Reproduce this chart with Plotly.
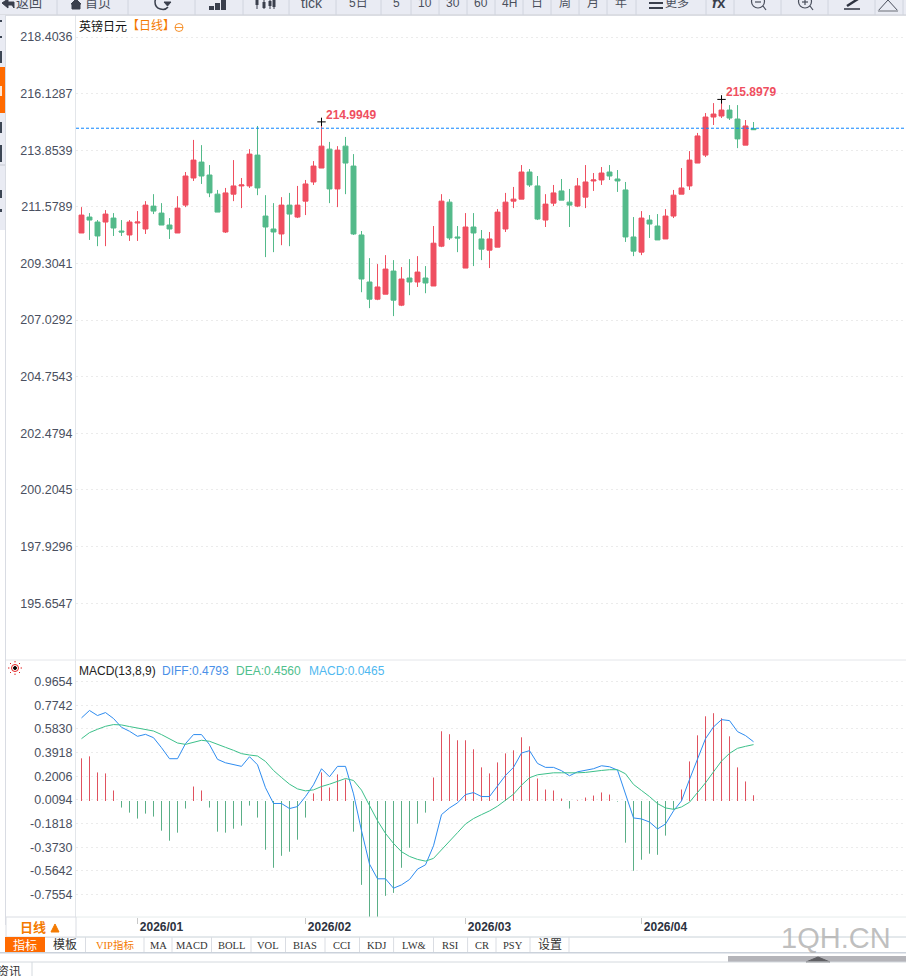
"""GBP/JPY daily candles with MACD panel, inside the trading terminal frame."""
import plotly.graph_objects as go

W, H = 906, 976
SANS = "Liberation Sans, Arial, sans-serif"
CJK = "Liberation Sans, Noto Sans CJK SC, sans-serif"
SERIF = "Liberation Serif, Noto Sans CJK SC, serif"

# ────── data ──────
opens = [210.53, 211.17, 210.97, 210.97, 211.13, 210.61, 210.45, 210.93, 210.69, 211.61,
         211.33, 210.85, 210.53, 211.65, 212.74, 213.38, 212.86, 212.09, 210.57, 212.09,
         212.42, 212.42, 213.66, 211.21, 210.69, 210.49, 211.65, 211.17, 211.81, 212.58,
         213.14, 213.90, 212.30, 214.02, 213.22, 210.45, 208.56, 207.87, 208.07, 209.00,
         207.63, 208.72, 208.56, 208.72, 208.40, 210.00, 211.77, 210.37, 209.12, 210.77,
         210.29, 209.84, 209.96, 210.69, 211.81, 211.89, 212.98, 212.42, 211.05, 211.73,
         212.22, 211.77, 211.61, 211.97, 212.62, 212.66, 212.98, 212.70, 212.26, 210.37,
         209.76, 211.05, 210.81, 210.29, 211.21, 212.09, 212.42, 213.34, 213.66, 215.19,
         215.23, 215.47, 215.11, 214.06, 214.73]
highs = [211.57, 211.33, 211.05, 211.45, 211.33, 211.05, 211.05, 211.41, 211.81, 212.09,
         211.73, 211.13, 212.01, 212.98, 214.27, 214.06, 213.26, 212.26, 212.34, 213.46,
         212.74, 213.90, 214.83, 212.05, 211.73, 211.97, 212.14, 212.42, 212.66, 213.42,
         214.9949, 214.19, 214.02, 214.39, 213.70, 210.61, 209.52, 209.28, 209.64, 209.44,
         209.16, 209.48, 209.60, 209.20, 210.81, 212.09, 211.89, 210.81, 211.33, 211.33,
         210.65, 210.57, 211.49, 212.14, 212.38, 213.26, 213.10, 212.82, 212.09, 212.46,
         212.70, 212.30, 212.74, 213.26, 212.94, 213.18, 213.26, 213.06, 212.58, 211.17,
         211.41, 211.25, 211.29, 211.49, 212.26, 213.14, 213.82, 214.55, 215.35, 215.75,
         215.8979, 215.67, 215.67, 215.07, 214.99]
lows = [210.53, 210.25, 210.00, 210.00, 210.41, 210.41, 210.21, 210.21, 210.49, 211.29,
        210.85, 210.29, 210.53, 211.57, 212.62, 212.50, 211.97, 211.37, 210.53, 211.81,
        211.53, 212.34, 212.05, 209.56, 209.76, 210.04, 210.00, 211.13, 211.25, 212.46,
        213.14, 211.73, 211.57, 212.09, 210.45, 208.15, 207.51, 207.83, 208.07, 207.19,
        207.59, 208.03, 208.36, 208.11, 208.40, 209.96, 210.25, 209.76, 209.12, 209.20,
        209.44, 209.12, 209.96, 210.57, 211.53, 211.89, 212.38, 211.05, 210.77, 211.61,
        211.85, 210.77, 211.57, 211.53, 212.22, 212.46, 212.66, 212.18, 210.17, 209.60,
        209.64, 210.33, 210.25, 210.29, 211.13, 212.09, 212.26, 213.34, 213.58, 214.87,
        215.15, 215.07, 213.94, 214.06, 214.67]
closes = [211.25, 211.05, 210.41, 211.29, 210.73, 210.57, 210.97, 210.97, 211.65, 211.41,
          210.85, 210.69, 211.53, 212.82, 213.46, 212.82, 212.14, 211.37, 212.14, 212.42,
          212.46, 213.70, 212.34, 210.77, 210.57, 211.65, 211.29, 211.65, 212.50, 213.22,
          214.02, 212.30, 213.86, 213.34, 210.49, 208.68, 207.87, 208.36, 209.08, 207.83,
          208.68, 208.56, 208.96, 208.52, 210.12, 211.81, 210.33, 210.33, 210.77, 210.53,
          209.88, 210.29, 211.37, 211.77, 211.89, 212.98, 212.46, 211.09, 211.69, 212.14,
          211.85, 211.65, 212.42, 212.58, 212.66, 212.94, 212.82, 212.62, 210.37, 209.80,
          211.13, 210.89, 210.25, 211.21, 212.05, 212.34, 213.46, 214.43, 215.19, 215.31,
          215.47, 215.15, 214.31, 214.83, 214.68]

diff = [0.672, 0.732, 0.691, 0.715, 0.667, 0.596, 0.564, 0.523, 0.539, 0.512,
        0.431, 0.342, 0.342, 0.464, 0.537, 0.537, 0.456, 0.337, 0.309, 0.296,
        0.280, 0.358, 0.293, 0.107, -0.020, -0.020, -0.061, -0.045, 0.036, 0.131,
        0.261, 0.196, 0.280, 0.280, 0.058, -0.240, -0.510, -0.629, -0.629, -0.705,
        -0.678, -0.635, -0.551, -0.516, -0.362, -0.110, -0.056, -0.015, 0.052, 0.068,
        0.036, 0.036, 0.117, 0.207, 0.272, 0.388, 0.407, 0.304, 0.272, 0.272,
        0.245, 0.204, 0.236, 0.247, 0.261, 0.285, 0.277, 0.250, 0.052, -0.137,
        -0.145, -0.170, -0.226, -0.186, -0.080, 0.001, 0.174, 0.345, 0.504, 0.599,
        0.658, 0.650, 0.561, 0.529, 0.4793]
dea = [0.504, 0.553, 0.580, 0.604, 0.618, 0.615, 0.602, 0.588, 0.580, 0.566,
       0.537, 0.502, 0.469, 0.458, 0.477, 0.491, 0.483, 0.461, 0.434, 0.410,
       0.383, 0.372, 0.364, 0.320, 0.247, 0.190, 0.136, 0.098, 0.082, 0.090,
       0.117, 0.136, 0.161, 0.182, 0.166, 0.088, -0.037, -0.159, -0.262, -0.343,
       -0.410, -0.448, -0.472, -0.486, -0.464, -0.397, -0.326, -0.256, -0.186, -0.142,
       -0.110, -0.080, -0.042, 0.009, 0.055, 0.128, 0.188, 0.212, 0.223, 0.228,
       0.228, 0.226, 0.228, 0.231, 0.242, 0.247, 0.253, 0.253, 0.220, 0.134,
       0.085, 0.036, -0.021, -0.056, -0.067, -0.048, -0.010, 0.066, 0.147, 0.236,
       0.323, 0.385, 0.426, 0.442, 0.4560]
macd = [0.345, 0.361, 0.231, 0.223, 0.085, -0.053, -0.094, -0.142, -0.102, -0.126,
        -0.240, -0.321, -0.256, -0.061, 0.117, 0.085, -0.053, -0.248, -0.256, -0.224,
        -0.199, -0.037, -0.134, -0.394, -0.540, -0.443, -0.410, -0.313, -0.134, 0.061,
        0.231, 0.109, 0.215, 0.174, -0.248, -0.678, -0.946, -0.946, -0.767, -0.743,
        -0.540, -0.378, -0.183, -0.094, 0.190, 0.564, 0.540, 0.491, 0.491, 0.418,
        0.272, 0.223, 0.312, 0.385, 0.410, 0.515, 0.442, 0.182, 0.093, 0.085,
        0.020, -0.061, 0.005, 0.028, 0.044, 0.069, 0.052, -0.005, -0.337, -0.564,
        -0.475, -0.426, -0.435, -0.280, -0.069, 0.093, 0.320, 0.531, 0.685, 0.710,
        0.669, 0.523, 0.272, 0.158, 0.0465]

idx = list(range(len(closes)))
price_ticks = ["218.4036", "216.1287", "213.8539", "211.5789", "209.3041", "207.0292",
               "204.7543", "202.4794", "200.2045", "197.9296", "195.6547"]
macd_ticks = ["0.9654", "0.7742", "0.5830", "0.3918", "0.2006", "0.0094",
              "-0.1818", "-0.3730", "-0.5642", "-0.7554"]
month_pos = [7, 28, 48, 70]
month_labels = ["2026/01", "2026/02", "2026/03", "2026/04"]
peak_idx = [30, 80]
last_price = 214.74

# colours
RED, GREEN = "#EF4F60", "#53BA8A"
BAR_RED, BAR_GREEN = "#E0525F", "#5BAF87"
CHROME = "#E9EBF3"
EDGE = "#D0D4DE"
ORANGE = "#F47A00"
X_RANGE = [-0.6875, 103.06]


# ────── pixel helpers for the terminal frame ──────
shapes, notes = [], []


def rect(x0, y0, x1, y1, fill, line=None):
    shapes.append(dict(type="rect", xref="paper", yref="paper",
                       x0=x0 / W, x1=x1 / W, y0=1 - y0 / H, y1=1 - y1 / H,
                       fillcolor=fill, line=dict(color=line or fill, width=1 if line else 0)))


def seg(x0, y0, x1, y1, color=EDGE, width=1, dash="solid"):
    shapes.append(dict(type="line", xref="paper", yref="paper",
                       x0=x0 / W, x1=x1 / W, y0=1 - y0 / H, y1=1 - y1 / H,
                       line=dict(color=color, width=width, dash=dash)))


def poly(points, color, fill=True, width=1):
    path = "M " + " L ".join(f"{x / W:.5f} {1 - y / H:.5f}" for x, y in points)
    shapes.append(dict(type="path", xref="paper", yref="paper",
                       path=path + (" Z" if fill else ""),
                       fillcolor=color if fill else "rgba(0,0,0,0)",
                       line=dict(color=color, width=width)))


def ring(cx, cy, r, color, fill="rgba(0,0,0,0)", width=1):
    shapes.append(dict(type="circle", xref="paper", yref="paper",
                       x0=(cx - r) / W, x1=(cx + r) / W, y0=1 - (cy + r) / H, y1=1 - (cy - r) / H,
                       fillcolor=fill, line=dict(color=color, width=width)))


def label(x, y, text, size=12, color="#333", family=CJK, anchor="center"):
    notes.append(dict(xref="paper", yref="paper", x=x / W, y=1 - y / H, text=text,
                      showarrow=False, xanchor=anchor, yanchor="middle",
                      font=dict(size=size, color=color, family=family)))


# top toolbar
rect(0, 0, W, 14, CHROME)
seg(0, 15, W, 15, "#CFD2DA", 1.5)
for sx in [57, 128, 195, 243, 289, 336, 381, 411, 439, 467, 495, 523, 551, 579, 607,
           636, 706, 734, 781, 828, 875, 903]:
    seg(sx, 0, sx, 15)
for cx, txt, sz in [(29, "返回", 13), (98, "首页", 13), (312, "tick", 14), (358, "5日", 12),
                    (396, "5", 12), (425, "10", 12), (453, "30", 12), (481, "60", 12),
                    (509, "4H", 12), (537, "日", 12), (565, "周", 12), (593, "月", 12),
                    (621, "年", 12), (677, "更多", 12)]:
    label(cx, 2.5, txt, sz, "#4A4F5C")
label(719, 3, "<b><i>f</i>x</b>", 15, "#3A3F4C")
# toolbar icons
poly([(2, 3), (8, -1), (8, 2), (14, 2), (14, 8), (12, 5), (8, 5), (8, 8)], "#3A3F4C")
poly([(71, 4), (76, -1), (81, 4), (80, 4), (80, 9), (72, 9), (72, 4)], "#3A3F4C")
shapes.append(dict(type="path", xref="paper", yref="paper",
                   path=f"M {168 / W} {1 - 7 / H} C {165 / W} {1 - 11 / H}, {155 / W} {1 - 10 / H}, {155 / W} {1 - 2 / H}"
                        f" C {155 / W} {1 + 3 / H}, {160 / W} {1 + 5 / H}, {164 / W} {1 + 4 / H}",
                   line=dict(color="#3A3F4C", width=1.5)))
poly([(164, 2), (171, 2), (167.5, 6)], "#3A3F4C")
for x0, top in [(209, 6), (215, 3), (221, 0)]:
    rect(x0, top, x0 + 5, 10, "#3A3F4C")
for cx, top, bot in [(257, 0, 5), (264, 2, 8), (270, 1, 6), (274, 0, 7)]:
    seg(cx, 0, cx, 9, "#3A3F4C", 1)
    rect(cx - 1.5, top, cx + 1.5, bot, "#3A3F4C")
rect(649, 2, 663, 4, "#3A3F4C")
rect(649, 7, 663, 9, "#3A3F4C")
for cx in [758, 805]:
    ring(cx, 1.5, 6.5, "#4A4F5C", width=1.2)
    seg(cx + 5, 6, cx + 8, 10, "#4A4F5C", 1.2)
    seg(cx - 3, 2, cx + 3, 2, "#4A4F5C", 1.2)
seg(805, -1, 805, 5, "#4A4F5C", 1.2)
seg(847, 6, 858, -1, "#2E3340", 2.5)
seg(844, 9, 860, 9, "#2E3340", 1.5)
poly([(878, 11), (888, 0), (898, 11)], "#4A4F5C", fill=False)
seg(878, 11, 898, 11, "#A9ACB4", 2)

# left strip
rect(0, 15, 5, 230, CHROME)
seg(5.5, 15, 5.5, 925, "#D9DCE3", 1)
seg(0, 165, 5, 165, "#C6C9D1", 1)
rect(0, 67, 5, 113, "#FF6A00")
rect(0, 86, 2, 96, "#FFE6D2")
for y0, y1 in [(51, 63), (122, 133), (145, 162), (190, 198), (209, 212), (20, 22), (36, 38)]:
    rect(0, y0, 2, y1, "#3C4654")

# panel separators
seg(6, 660, W, 660, "#E4E6EA", 1)
seg(76, 917, W, 917, "#E6ECEC", 1)
seg(6, 937, W, 937, "#C9D2D8", 1)
rect(6, 917, 76, 937, "#FFFFFF", "#DADDE3")
label(33, 927, "<b>日线</b>", 13, ORANGE)
poly([(51, 932), (55, 924), (59, 932)], ORANGE)

# bottom tab row
tab_edges = [45, 85.5, 144, 172, 211.5, 251, 285.5, 325, 359.5, 393.6, 433.5, 467.6, 496, 530, 569]
tab_text = ["模板", "VIP指标", "MA", "MACD", "BOLL", "VOL", "BIAS", "CCI", "KDJ",
            "LW&", "RSI", "CR", "PSY", "设置"]
rect(5, 937, 45, 952, "#FF6A00")
label(25, 945, "指标", 12, "#FFFFFF", CJK)
for i, txt in enumerate(tab_text):
    seg(tab_edges[i + 1], 937, tab_edges[i + 1], 952, "#DADDE3")
    mid = (tab_edges[i] + tab_edges[i + 1]) / 2
    vip = txt.startswith("VIP")
    ascii_only = txt.isascii()
    label(mid, 945, txt, 10.5 if ascii_only or vip else 12,
          ORANGE if vip else "#333", SERIF if ascii_only or vip else CJK)
rect(0, 952, W, 953.5, "#CBD2DB")
rect(728, 956, W, 962, "#B4B4B9")
poly([(806, 962), (818, 957), (830, 962)], "#5F5F63")
seg(0, 962, W, 962, "#D4D9DE")
seg(32, 962, 32, 976, "#D4D9DE")
label(9, 972, "资讯", 12, "#333")
label(836, 938, "1QH.CN", 29, "rgba(180,180,180,0.85)", SANS)

# panel captions
label(76.5, 26, "英镑日元", 12, "#111", CJK, "left")
label(124.5, 26, "【日线】", 12, ORANGE, CJK, "left")
ring(179, 27.5, 4, ORANGE, width=0.8)
seg(175, 27.5, 183, 27.5, ORANGE, 0.8)
label(77, 671, "MACD(13,8,9)", 12, "#222", SANS, "left")
label(160, 671, "DIFF:0.4793", 12, "#4A90E8", SANS, "left")
label(234, 671, "DEA:0.4560", 12, "#4FC08D", SANS, "left")
label(307, 671, "MACD:0.0465", 12, "#4FB8F0", SANS, "left")
# little sun icon beside the MACD caption
ring(15, 668, 3.5, "#E02020", width=1)
ring(15, 668, 1.5, "#000000", fill="#000000")
for dx, dy in [(-7, 0), (7, 0), (0, -7), (0, 7), (-5, -5), (5, -5), (-5, 5), (5, 5)]:
    seg(15 + dx * 0.8, 668 + dy * 0.8, 15 + dx, 668 + dy, "#E02020", 1)

# peak price tags sit on the candle highs
for i in peak_idx:
    notes.append(dict(xref="x", yref="y", x=i, y=highs[i], text=f"<b>{highs[i]:.4f}</b>",
                      showarrow=False, xanchor="left", yanchor="middle", xshift=2, yshift=7,
                      font=dict(size=12, color=RED, family=SANS)))

# ────── figure ──────
fig = go.Figure()
fig.add_trace(go.Candlestick(
    x=idx, open=opens, high=highs, low=lows, close=closes,
    increasing=dict(line=dict(color=RED, width=1), fillcolor=RED),
    decreasing=dict(line=dict(color=GREEN, width=1), fillcolor=GREEN),
    whiskerwidth=0, xaxis="x", yaxis="y", hoverinfo="skip"))
fig.add_trace(go.Scatter(
    x=X_RANGE, y=[last_price, last_price], mode="lines",
    line=dict(color="#0A84FF", width=1, dash="3px,2px"), xaxis="x", yaxis="y", hoverinfo="skip"))
fig.add_trace(go.Scatter(
    x=peak_idx, y=[highs[i] for i in peak_idx], mode="markers",
    marker=dict(symbol="cross-thin", size=6, line=dict(color="#000", width=1)),
    xaxis="x", yaxis="y", hoverinfo="skip"))

# histogram as hairline stems, one colour per sign
for want_up, colour in [(True, BAR_RED), (False, BAR_GREEN)]:
    stem_x, stem_y = [], []
    for i, v in zip(idx, macd):
        if (v >= 0) == want_up:
            stem_x += [i, i, None]
            stem_y += [0, v, None]
    fig.add_trace(go.Scatter(x=stem_x, y=stem_y, mode="lines", line=dict(color=colour, width=1),
                             xaxis="x", yaxis="y2", hoverinfo="skip"))
fig.add_trace(go.Scatter(x=idx, y=diff, mode="lines", line=dict(color="#2E8CF0", width=1),
                         xaxis="x", yaxis="y2", hoverinfo="skip"))
fig.add_trace(go.Scatter(x=idx, y=dea, mode="lines", line=dict(color="#3CC08A", width=1),
                         xaxis="x", yaxis="y2", hoverinfo="skip"))

axis_font = dict(size=12.5, color="#4A5060", family=SANS)
grid = dict(showgrid=True, gridcolor="#EBEBEB", griddash="2px,3px", gridwidth=1, zeroline=False,
            showline=True, linecolor="#E3E6EA", linewidth=1, ticks="", tickfont=axis_font,
            tickmode="array", ticklabelposition="outside", fixedrange=True)

fig.update_layout(
    width=W, height=H, autosize=False,
    margin=dict(l=0, r=0, t=0, b=0, pad=0),
    paper_bgcolor="white", plot_bgcolor="white",
    showlegend=False, boxgap=0.12,
    shapes=shapes, annotations=notes,
    xaxis=dict(domain=[76 / W, 1], range=X_RANGE, anchor="y2",
               tickmode="array", tickvals=month_pos, ticktext=month_labels,
               ticks="outside", ticklen=6, tickcolor="#C8C8C8", showgrid=False, zeroline=False,
               showline=False, ticklabelshift=24, ticklabelstandoff=-7,
               tickfont=dict(size=12, color="#2C3240", family=SANS, weight="bold"),
               rangeslider=dict(visible=False), fixedrange=True),
    yaxis=dict(domain=[1 - 660 / H, 1 - 15 / H], range=[193.37, 219.29], anchor="x",
               tickvals=[float(t) for t in price_ticks], ticktext=price_ticks, **grid),
    yaxis2=dict(domain=[1 - 917 / H, 1 - 660 / H], range=[-0.9379, 1.1401], anchor="x",
                tickvals=[float(t) for t in macd_ticks], ticktext=macd_ticks, **grid),
)

fig.write_html("out.html", config=dict(displayModeBar=False),
               post_script="document.body.style.margin='0';document.body.style.overflow='hidden';")
